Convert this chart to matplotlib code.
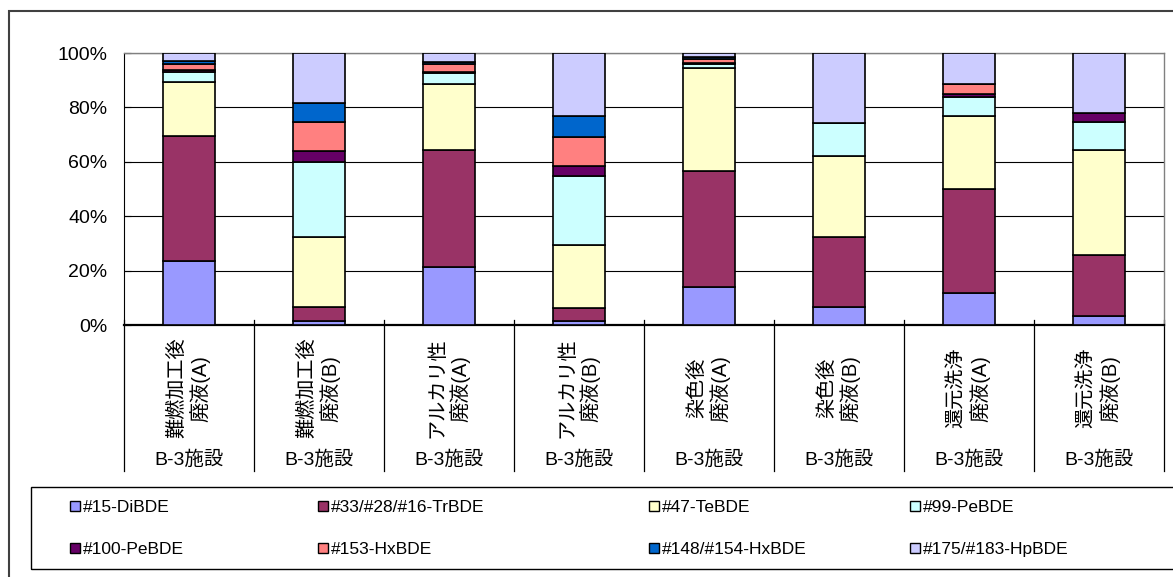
import matplotlib.pyplot as plt
from matplotlib.patches import Patch, Rectangle
import numpy as np

plt.rcParams['font.family'] = ['Liberation Sans', 'Noto Sans CJK JP', 'DejaVu Sans']

# categories (two level axis)
categories = ['難燃加工後\n廃液(A)', '難燃加工後\n廃液(B)', 'アルカリ性\n廃液(A)', 'アルカリ性\n廃液(B)',
              '染色後\n廃液(A)', '染色後\n廃液(B)', '還元洗浄\n廃液(A)', '還元洗浄\n廃液(B)']
facility = ['B-3施設'] * 8

series_names = ['#15-DiBDE', '#33/#28/#16-TrBDE', '#47-TeBDE', '#99-PeBDE',
                '#100-PeBDE', '#153-HxBDE', '#148/#154-HxBDE', '#175/#183-HpBDE']
series_colors = ['#9999FF', '#993366', '#FFFFCC', '#CCFFFF',
                 '#660066', '#FF8080', '#0066CC', '#CCCCFF']

# composition (%) per category
di_bde = [23.6, 1.6, 21.5, 1.6, 14.1, 6.7, 11.9, 3.3]
tr_bde = [46.0, 5.1, 42.7, 4.5, 42.6, 25.8, 38.0, 22.5]
te_bde = [19.7, 25.8, 24.4, 23.3, 37.9, 29.5, 26.8, 38.6]
pe99_bde = [3.7, 27.3, 3.9, 25.2, 1.3, 12.2, 7.1, 10.1]
pe100_bde = [0.6, 4.0, 0.6, 3.9, 0.6, 0.0, 1.0, 3.4]
hx153_bde = [2.4, 10.7, 2.9, 10.8, 1.4, 0.0, 3.8, 0.0]
hx148_bde = [0.9, 7.1, 0.8, 7.4, 0.6, 0.0, 0.0, 0.0]
hp_bde = [3.1, 18.4, 3.2, 23.3, 1.5, 25.8, 11.4, 22.1]

series = [di_bde, tr_bde, te_bde, pe99_bde, pe100_bde, hx153_bde, hx148_bde, hp_bde]

W, H = 1173, 577
fig = plt.figure(figsize=(W / 100, H / 100), dpi=100)
ax = fig.add_axes([124 / W, 1 - 325 / H, 1040 / W, 272 / H])

x = np.arange(len(categories))
bottom = np.zeros(len(categories))
for vals, name, col in zip(series, series_names, series_colors):
    ax.bar(x, vals, 0.4, bottom=bottom, color=col, edgecolor='black', linewidth=1.2,
           label=name, zorder=3)
    bottom += np.array(vals)

ax.set_xlim(-0.5, len(categories) - 0.5)
ax.set_ylim(0, 100)
ax.set_yticks(np.arange(0, 101, 20))
ax.set_yticklabels([f'{v}%' for v in range(0, 101, 20)], fontsize=14)
ax.tick_params(axis='y', direction='in', length=5, pad=12, width=0.8)
ax.set_xticks([])
ax.grid(axis='y', color='black', linewidth=0.8, zorder=0)

for side in ['top', 'right']:
    ax.spines[side].set_color('#808080')
    ax.spines[side].set_linewidth(1)
ax.spines['left'].set_color('black')
ax.spines['bottom'].set_linewidth(1.6)

# category separators and labels below the axis
trans = ax.get_xaxis_transform()
for b in np.arange(len(categories) + 1) - 0.5:
    ax.plot([b, b], [0.018, -0.537], color='black', lw=0.9, transform=trans, clip_on=False)
for i, (lab, fac) in enumerate(zip(categories, facility)):
    ax.text(i, -0.232, lab, rotation=90, ha='center', va='center', ma='center',
            fontsize=14.5, linespacing=1.2, transform=trans)
    ax.text(i, -0.496, fac, ha='center', va='center', fontsize=14, transform=trans)

# outer chart border
fig.patches.append(Rectangle((9 / W, -0.1), 1.2, 1 - 11 / H + 0.1, transform=fig.transFigure,
                             fill=False, edgecolor='#404040', linewidth=1.5))

# legend box with entries in four columns
fig.patches.append(Rectangle((31 / W, 1 - 569 / H), 1.2, 82 / H, transform=fig.transFigure,
                             fill=False, edgecolor='black', linewidth=1))
handles = [Patch(facecolor=c, edgecolor='black', linewidth=1.0, label=n)
           for n, c in zip(series_names, series_colors)]
col_x = [70, 318, 649, 910]
for k in range(4):
    fig.legend(handles=[handles[k], handles[k + 4]], loc='upper left',
               bbox_to_anchor=(col_x[k] / W, 1 - 500 / H), frameon=False, fontsize=12.5,
               handlelength=0.55, handleheight=0.55, handletextpad=0.2, labelspacing=1.55,
               borderpad=0, borderaxespad=0)

fig.savefig('out.png', dpi=100)
